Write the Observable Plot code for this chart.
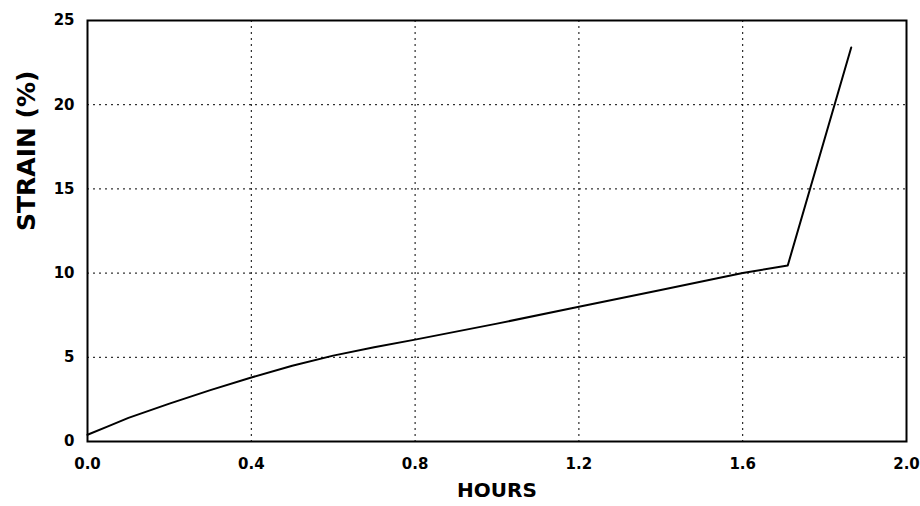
<!DOCTYPE html>
<html>
<head>
<meta charset="utf-8">
<script src="https://cdn.jsdelivr.net/npm/d3@7"></script>
<script src="https://cdn.jsdelivr.net/npm/@observablehq/plot@0.6"></script>
<style>
  html, body { margin: 0; padding: 0; background: #fff; }
  #chart svg { display: block; }
  #chart svg g[aria-label*="tick label"] text { font-size: 15px !important; font-family: 'DejaVu Sans', sans-serif !important; font-weight: bold !important; }
</style>
</head>
<body>
<div id="chart"></div>
<script>
const hours  = [0.0, 0.05, 0.10, 0.20, 0.30, 0.40, 0.50, 0.60, 0.70, 0.80, 1.00, 1.20, 1.40, 1.60, 1.71, 1.865];
const strain = [0.4, 0.9, 1.4, 2.25, 3.05, 3.8, 4.5, 5.1, 5.6, 6.05, 7.0, 8.0, 9.0, 10.0, 10.45, 23.4];
const xTicks = [0.0, 0.4, 0.8, 1.2, 1.6, 2.0];
const yTicks = [0, 5, 10, 15, 20, 25];
const xGrid = [0.4, 0.8, 1.2, 1.6];
const yGrid = [5, 10, 15, 20];
const xLabel = "HOURS";
const yLabel = "STRAIN (%)";

const data = hours.map((h, i) => ({h, s: strain[i]}));

const chart = Plot.plot({
  width: 920,
  height: 506,
  marginLeft: 87,
  marginRight: 14,
  marginTop: 20,
  marginBottom: 65,
  style: {fontFamily: "'DejaVu Sans', sans-serif", background: "#fff", color: "#000", fontWeight: "bold"},
  x: {domain: [0, 2.0]},
  y: {domain: [0, 25]},
  marks: [
    Plot.ruleX(xGrid, {stroke: "#000", strokeWidth: 1, strokeDasharray: "2,4"}),
    Plot.ruleY(yGrid, {stroke: "#000", strokeWidth: 1, strokeDasharray: "2,4"}),
    Plot.line(data, {x: "h", y: "s", stroke: "#000", strokeWidth: 2}),
    Plot.frame({stroke: "#000", strokeWidth: 2}),
    Plot.axisX(xTicks, {tickSize: 0, tickPadding: 17, tickFormat: d3.format(".1f"), label: null, fontSize: 15}),
    Plot.axisY(yTicks, {tickSize: 0, tickPadding: 13, label: null, fontSize: 15}),
    Plot.text([xLabel], {frameAnchor: "bottom", dy: 55, fontSize: 20, fontWeight: "bold", fill: "#000"}),
    Plot.text([yLabel], {frameAnchor: "left", dx: -61, rotate: -90, fontSize: 25, fontWeight: "bold", fill: "#000"})
  ]
});
document.getElementById("chart").appendChild(chart);
d3.select(chart).selectAll("g[aria-label*='tick label'] text").style("font-size", "15px");
</script>
</body>
</html>
